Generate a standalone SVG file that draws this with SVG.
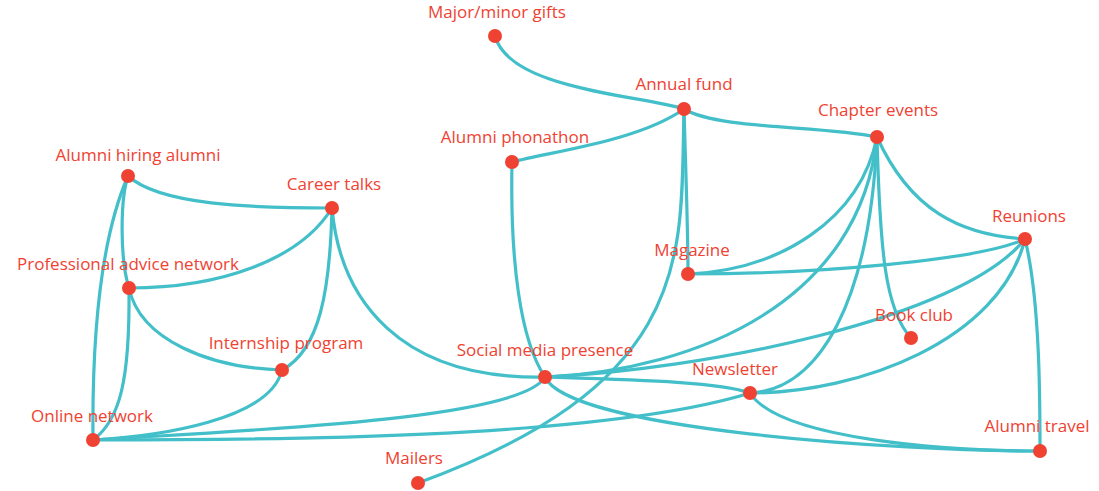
<svg xmlns="http://www.w3.org/2000/svg" width="1099" height="491" viewBox="0 0 1099 491">
<style>
.e{fill:none;stroke:#43bfc9;stroke-width:3.2}
.n circle{fill:#ef4232}
.n text{fill:#ef4232;font-family:"Open Sans","Liberation Sans",sans-serif;font-size:17px;text-anchor:middle}
</style>
<rect width="1099" height="491" fill="#fff"/>
<g id="connectors">
<path class="e" d="M495,36 C510,90 640,95 684,109"/>
<path class="e" d="M684,109 C720,130 820,125 877,137"/>
<path class="e" d="M684,109 C640,140 560,150 512,162"/>
<path class="e" d="M684,109 C686,180 688,230 688,274"/>
<path class="e" d="M684,109 C680,250 700,380 418,483"/>
<path class="e" d="M512,162 C510,260 520,340 545,377"/>
<path class="e" d="M877,137 C860,220 780,270 688,274"/>
<path class="e" d="M877,137 C860,300 700,370 545,377"/>
<path class="e" d="M877,137 C870,300 820,390 750,393"/>
<path class="e" d="M877,137 C880,250 885,310 911,338"/>
<path class="e" d="M877,137 C910,210 960,235 1025,239"/>
<path class="e" d="M1025,239 C980,260 820,274 688,274"/>
<path class="e" d="M1025,239 C960,320 700,370 545,377"/>
<path class="e" d="M1025,239 C1000,340 860,393 750,393"/>
<path class="e" d="M1025,239 C1040,300 1040,400 1040,451"/>
<path class="e" d="M750,393 C600,440 250,440 93,440"/>
<path class="e" d="M750,393 C780,440 950,451 1040,451"/>
<path class="e" d="M545,377 C570,430 900,451 1040,451"/>
<path class="e" d="M545,377 C640,380 720,382 750,393"/>
<path class="e" d="M545,377 C520,420 250,430 93,440"/>
<path class="e" d="M545,377 C400,380 340,300 332,208"/>
<path class="e" d="M332,208 C250,208 160,205 128,176"/>
<path class="e" d="M332,208 C300,260 220,288 129,288"/>
<path class="e" d="M332,208 C330,290 320,350 282,370"/>
<path class="e" d="M128,176 C120,200 120,260 129,288"/>
<path class="e" d="M128,176 C100,240 92,340 93,440"/>
<path class="e" d="M129,288 C130,380 120,420 93,440"/>
<path class="e" d="M129,288 C140,340 210,368 282,370"/>
<path class="e" d="M282,370 C270,420 160,436 93,440"/>
</g>
<g id="major" class="n"><circle cx="495" cy="36" r="7"/><text x="497" y="18">Major/minor gifts</text></g>
<g id="annual" class="n"><circle cx="684" cy="109" r="7"/><text x="684" y="90">Annual fund</text></g>
<g id="chapter" class="n"><circle cx="877" cy="137" r="7"/><text x="878" y="116">Chapter events</text></g>
<g id="phonathon" class="n"><circle cx="512" cy="162" r="7"/><text x="515" y="143">Alumni phonathon</text></g>
<g id="hiring" class="n"><circle cx="128" cy="176" r="7"/><text x="138" y="161">Alumni hiring alumni</text></g>
<g id="career" class="n"><circle cx="332" cy="208" r="7"/><text x="334" y="190">Career talks</text></g>
<g id="reunions" class="n"><circle cx="1025" cy="239" r="7"/><text x="1029" y="222">Reunions</text></g>
<g id="magazine" class="n"><circle cx="688" cy="274" r="7"/><text x="692" y="256">Magazine</text></g>
<g id="advice" class="n"><circle cx="129" cy="288" r="7"/><text x="128" y="270">Professional advice network</text></g>
<g id="bookclub" class="n"><circle cx="911" cy="338" r="7"/><text x="914" y="321">Book club</text></g>
<g id="internship" class="n"><circle cx="282" cy="370" r="7"/><text x="286" y="349">Internship program</text></g>
<g id="social" class="n"><circle cx="545" cy="377" r="7"/><text x="545" y="356">Social media presence</text></g>
<g id="newsletter" class="n"><circle cx="750" cy="393" r="7"/><text x="735" y="375">Newsletter</text></g>
<g id="online" class="n"><circle cx="93" cy="440" r="7"/><text x="92" y="422">Online network</text></g>
<g id="travel" class="n"><circle cx="1040" cy="451" r="7"/><text x="1037" y="432">Alumni travel</text></g>
<g id="mailers" class="n"><circle cx="418" cy="483" r="7"/><text x="414" y="464">Mailers</text></g>
</svg>
